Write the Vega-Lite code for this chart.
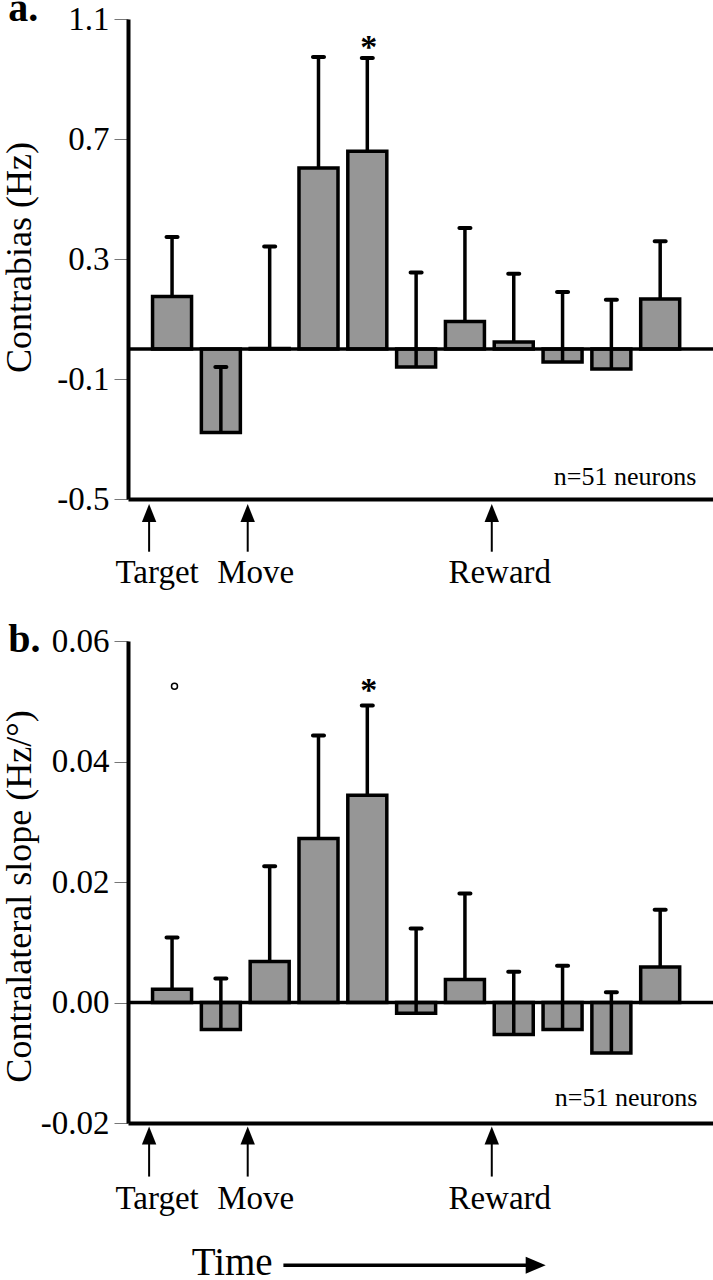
{
  "$schema": "https://vega.github.io/schema/vega-lite/v6.json",
  "padding": {"left": 0, "top": -11, "right": 0, "bottom": 0},
  "background": "white",
  "bounds": "flush",
  "spacing": 142,
  "config": {
    "font": "Times New Roman",
    "view": {"stroke": null},
    "axis": {"labelColor": "black", "titleColor": "black", "labelFont": "Times New Roman", "titleFont": "Times New Roman", "titleFontWeight": "normal", "grid": false},
    "text": {"font": "Times New Roman", "color": "black"}
  },
  "datasets": {
    "a": [
      {"bin": 0, "mean": 0.175, "upper": 0.373},
      {"bin": 1, "mean": -0.278, "upper": -0.06},
      {"bin": 2, "mean": 0.002, "upper": 0.342},
      {"bin": 3, "mean": 0.603, "upper": 0.973},
      {"bin": 4, "mean": 0.659, "upper": 0.97},
      {"bin": 5, "mean": -0.06, "upper": 0.255},
      {"bin": 6, "mean": 0.092, "upper": 0.403},
      {"bin": 7, "mean": 0.023, "upper": 0.251},
      {"bin": 8, "mean": -0.043, "upper": 0.19},
      {"bin": 9, "mean": -0.067, "upper": 0.164},
      {"bin": 10, "mean": 0.167, "upper": 0.359}
    ],
    "b": [
      {"bin": 0, "mean": 0.0022, "upper": 0.0108},
      {"bin": 1, "mean": -0.0045, "upper": 0.004},
      {"bin": 2, "mean": 0.0068, "upper": 0.0226},
      {"bin": 3, "mean": 0.0272, "upper": 0.0443},
      {"bin": 4, "mean": 0.0344, "upper": 0.0493},
      {"bin": 5, "mean": -0.0018, "upper": 0.0123},
      {"bin": 6, "mean": 0.0038, "upper": 0.0181},
      {"bin": 7, "mean": -0.0053, "upper": 0.0051},
      {"bin": 8, "mean": -0.0045, "upper": 0.0061},
      {"bin": 9, "mean": -0.0084, "upper": 0.0017},
      {"bin": 10, "mean": 0.0059, "upper": 0.0154}
    ],
    "events": [
      {"event": "Target", "pos": -0.47},
      {"event": "Move", "pos": 1.55},
      {"event": "Reward", "pos": 6.55}
    ]
  },
  "vconcat": [
    {
      "width": 586,
      "height": 480,
      "layer": [
        {
          "data": {"name": "a"},
          "mark": {"type": "bar", "width": 39, "fill": "#969696", "stroke": "black", "strokeWidth": 3.5},
          "encoding": {
            "x": {"field": "bin", "type": "quantitative", "scale": {"domain": [-0.8, 11], "nice": false, "zero": false}, "axis": {"labels": false, "ticks": false, "title": null, "domainColor": "black", "domainWidth": 4}},
            "y": {"field": "mean", "type": "quantitative", "scale": {"domain": [-0.5, 1.1], "nice": false, "zero": false},
              "axis": {"values": [-0.5, -0.1, 0.3, 0.7, 1.1], "labelExpr": "(datum.value < 0 ? '-' : '') + format(abs(datum.value), '.1f')", "title": "Contrabias (Hz)", "titleFontSize": 36, "labelFontSize": 33, "tickSize": 14, "tickWidth": 1, "tickColor": "#777777", "domainColor": "black", "domainWidth": 4, "labelPadding": 5, "titleX": -90, "titleY": 238, "titleAngle": 270, "titleAlign": "center", "titleBaseline": "bottom"}},
            "y2": {"datum": 0}
          }
        },
        {"data": {"values": [{}]}, "mark": {"type": "rule", "strokeWidth": 3.5, "color": "black"}, "encoding": {"y": {"datum": 0}}},
        {"data": {"name": "a"}, "mark": {"type": "rule", "strokeWidth": 3.5, "color": "black"}, "encoding": {"x": {"field": "bin", "type": "quantitative"}, "y": {"field": "mean", "type": "quantitative"}, "y2": {"field": "upper"}}},
        {"data": {"name": "a"}, "mark": {"type": "tick", "orient": "horizontal", "size": 15, "thickness": 4, "cornerRadius": 2, "color": "black", "opacity": 1}, "encoding": {"x": {"field": "bin", "type": "quantitative"}, "y": {"field": "upper", "type": "quantitative"}}},
        {"data": {"name": "events"}, "mark": {"type": "rule", "strokeWidth": 2, "color": "black"}, "encoding": {"x": {"field": "pos", "type": "quantitative"}, "y": {"datum": -0.56}, "y2": {"datum": -0.6757}}},
        {"data": {"name": "events"}, "mark": {"type": "point", "shape": "M0,-1L0.8,1L-0.8,1Z", "size": 324, "filled": true, "color": "black", "opacity": 1, "strokeWidth": 0}, "encoding": {"x": {"field": "pos", "type": "quantitative"}, "y": {"datum": -0.5467}}},
        {"data": {"name": "events"}, "mark": {"type": "text", "font": "Times New Roman", "fontSize": 33, "dx": 8, "baseline": "alphabetic", "align": "center"}, "encoding": {"x": {"field": "pos", "type": "quantitative"}, "y": {"datum": -0.78}, "text": {"field": "event"}}},
        {"data": {"values": [{}]}, "mark": {"type": "text", "font": "Times New Roman", "fontSize": 26, "align": "right", "baseline": "alphabetic"}, "encoding": {"x": {"datum": 10.74}, "y": {"datum": -0.453}, "text": {"value": "n=51 neurons"}}},
        {"data": {"values": [{}]}, "mark": {"type": "text", "font": "Times New Roman", "fontSize": 34, "fontWeight": "bold", "align": "center", "baseline": "alphabetic"}, "encoding": {"x": {"datum": 4.03}, "y": {"datum": 0.971}, "text": {"value": "*"}}},
        {"data": {"values": [{}]}, "mark": {"type": "text", "font": "Times New Roman", "fontSize": 40, "fontWeight": "bold", "align": "left", "baseline": "alphabetic"}, "encoding": {"x": {"datum": -3.357}, "y": {"datum": 1.093}, "text": {"value": "a."}}}
      ]
    },
    {
      "width": 586,
      "height": 482,
      "layer": [
        {
          "data": {"name": "b"},
          "mark": {"type": "bar", "width": 39, "fill": "#969696", "stroke": "black", "strokeWidth": 3.5},
          "encoding": {
            "x": {"field": "bin", "type": "quantitative", "scale": {"domain": [-0.8, 11], "nice": false, "zero": false}, "axis": {"labels": false, "ticks": false, "title": null, "domainColor": "black", "domainWidth": 4}},
            "y": {"field": "mean", "type": "quantitative", "scale": {"domain": [-0.02, 0.06], "nice": false, "zero": false},
              "axis": {"values": [-0.02, 0, 0.02, 0.04, 0.06], "labelExpr": "(datum.value < 0 ? '-' : '') + format(abs(datum.value), '.2f')", "title": "Contralateral slope (Hz/°)", "titleFontSize": 36, "labelFontSize": 33, "tickSize": 14, "tickWidth": 1, "tickColor": "#777777", "domainColor": "black", "domainWidth": 4, "labelPadding": 5, "titleX": -90, "titleY": 255, "titleAngle": 270, "titleAlign": "center", "titleBaseline": "bottom"}},
            "y2": {"datum": 0}
          }
        },
        {"data": {"values": [{}]}, "mark": {"type": "rule", "strokeWidth": 3.5, "color": "black"}, "encoding": {"y": {"datum": 0}}},
        {"data": {"name": "b"}, "mark": {"type": "rule", "strokeWidth": 3.5, "color": "black"}, "encoding": {"x": {"field": "bin", "type": "quantitative"}, "y": {"field": "mean", "type": "quantitative"}, "y2": {"field": "upper"}}},
        {"data": {"name": "b"}, "mark": {"type": "tick", "orient": "horizontal", "size": 15, "thickness": 4, "cornerRadius": 2, "color": "black", "opacity": 1}, "encoding": {"x": {"field": "bin", "type": "quantitative"}, "y": {"field": "upper", "type": "quantitative"}}},
        {"data": {"name": "events"}, "mark": {"type": "rule", "strokeWidth": 2, "color": "black"}, "encoding": {"x": {"field": "pos", "type": "quantitative"}, "y": {"datum": -0.0225}, "y2": {"datum": -0.02889}}},
        {"data": {"name": "events"}, "mark": {"type": "point", "shape": "M0,-1L0.8,1L-0.8,1Z", "size": 324, "filled": true, "color": "black", "opacity": 1, "strokeWidth": 0}, "encoding": {"x": {"field": "pos", "type": "quantitative"}, "y": {"datum": -0.02209}}},
        {"data": {"name": "events"}, "mark": {"type": "text", "font": "Times New Roman", "fontSize": 33, "dx": 8, "baseline": "alphabetic", "align": "center"}, "encoding": {"x": {"field": "pos", "type": "quantitative"}, "y": {"datum": -0.0343}, "text": {"field": "event"}}},
        {"data": {"values": [{}]}, "mark": {"type": "text", "font": "Times New Roman", "fontSize": 26, "align": "right", "baseline": "alphabetic"}, "encoding": {"x": {"datum": 10.76}, "y": {"datum": -0.0172}, "text": {"value": "n=51 neurons"}}},
        {"data": {"values": [{}]}, "mark": {"type": "text", "font": "Times New Roman", "fontSize": 34, "fontWeight": "bold", "align": "center", "baseline": "alphabetic"}, "encoding": {"x": {"datum": 4.03}, "y": {"datum": 0.0501}, "text": {"value": "*"}}},
        {"data": {"values": [{}]}, "mark": {"type": "point", "shape": "circle", "size": 36, "filled": false, "color": "black", "strokeWidth": 1.5, "opacity": 1}, "encoding": {"x": {"datum": 0.05}, "y": {"datum": 0.0525}}},
        {"data": {"values": [{}]}, "mark": {"type": "text", "font": "Times New Roman", "fontSize": 40, "fontWeight": "bold", "align": "left", "baseline": "alphabetic"}, "encoding": {"x": {"datum": -3.357}, "y": {"datum": 0.0582}, "text": {"value": "b."}}},
        {"data": {"values": [{}]}, "mark": {"type": "text", "font": "Times New Roman", "fontSize": 39, "align": "left", "baseline": "alphabetic"}, "encoding": {"x": {"datum": 0.402}, "y": {"datum": -0.0452}, "text": {"value": "Time"}}},
        {"data": {"values": [{}]}, "mark": {"type": "rule", "strokeWidth": 3.5, "color": "black"}, "encoding": {"x": {"datum": 2.281}, "x2": {"datum": 7.45}, "y": {"datum": -0.0436}}},
        {"data": {"values": [{}]}, "mark": {"type": "point", "shape": "M1,0L-1,-0.85L-1,0.85Z", "size": 400, "filled": true, "color": "black", "opacity": 1, "strokeWidth": 0}, "encoding": {"x": {"datum": 7.45}, "y": {"datum": -0.0436}}}
      ]
    }
  ]
}
